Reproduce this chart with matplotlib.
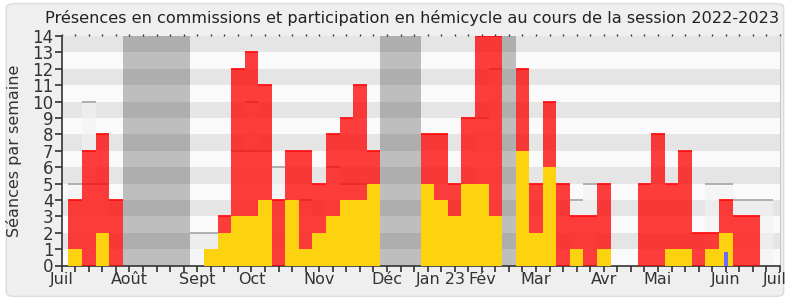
import numpy as np
import matplotlib
matplotlib.use('Agg')
import matplotlib.pyplot as plt
from matplotlib.patches import FancyBboxPatch
from matplotlib.transforms import ScaledTranslation

# weekly values, session 2022-2023 (52 weeks starting early July)
# red bars: total weekly activity (hemicycle + commission)
total = [4, 7, 8, 4, 0, 0, 0, 0, 0, 0, 0, 3, 12, 13, 11, 4, 7, 7, 5, 8, 9, 11, 7, 0, 0, 0,
         8, 8, 5, 9, 14, 14, 0, 12, 5, 10, 5, 3, 3, 5, 0, 0, 5, 8, 5, 7, 2, 2, 4, 3, 3, 0]
# yellow bars: commission presences
commission = [1, 0, 2, 0, 0, 0, 0, 0, 0, 0, 1, 2, 3, 3, 4, 0, 4, 1, 2, 3, 4, 4, 5, 0, 0, 0,
              5, 4, 3, 5, 5, 3, 0, 7, 2, 6, 0, 1, 0, 1, 0, 0, 0, 0, 1, 1, 0, 1, 2, 0, 0, 0]
# grey median lines (nan = none)
nan = np.nan
median = [5, 5, 5, nan, nan, nan, nan, nan, nan, 2, 2, nan, 7, 7, 7, 6, nan, 4, nan, 6, 5, 5,
          nan, nan, nan, nan, nan, nan, nan, nan, 9, 12, nan, nan, nan, nan, nan, 4, 5, nan,
          nan, nan, nan, nan, nan, nan, nan, 5, 5, 4, 4, 4]
median_high = [nan, 10] + [nan] * 11 + [10] + [nan] * 38
# parliamentary holidays (week indices)
vacances = [4, 5, 6, 7, 8, 23, 24, 25, 32]
# oral questions
questions_week = [48]
questions = [0.85]

month_ticks = [0, 5, 10, 14, 19, 24, 28, 31, 35, 40, 44, 49, 53]
month_labels = ['Juil', 'Août', 'Sept', 'Oct', 'Nov', 'Déc', 'Jan 23', 'Fév', 'Mar',
                'Avr', 'Mai', 'Juin', 'Juil']

n_weeks = len(total)
x = np.arange(n_weeks) + 1

fig = plt.figure(figsize=(7.9, 3.0), dpi=100, facecolor='white')
fig.patches.append(FancyBboxPatch((0.008, 0.012), 0.984, 0.976,
                                  boxstyle='round,pad=0,rounding_size=0.012',
                                  transform=fig.transFigure, facecolor='#efefef',
                                  edgecolor='#dcdcdc', linewidth=1.0, zorder=-10))

ax = fig.add_axes([0.0781, 0.115, 0.9092, 0.765])
ax.set_facecolor('#fafafa')
ax.set_xlim(0, 53)
ax.set_ylim(0, 14)

# horizontal bands
for k in range(14):
    if k % 2 == 1:
        ax.axhspan(k, k + 1, color='#e5e5e5', lw=0, zorder=0)

# holidays
for w in vacances:
    ax.bar(w + 1, 14, width=1, color='black', alpha=0.24, lw=0, zorder=1)

# median (light fill + grey line)
med = np.array(median, dtype=float)
med_hi = np.array(median_high, dtype=float)
fill_top = np.fmax(med, med_hi)
ok = ~np.isnan(fill_top)
ax.bar(x[ok], fill_top[ok], width=1, color='#f2f2f2', alpha=0.62, lw=0, zorder=2)
for arr in (med, med_hi):
    ok = ~np.isnan(arr)
    ax.hlines(arr[ok], x[ok] - 0.5, x[ok] + 0.5, color='#aaaaaa', lw=1.3, zorder=3)

# red bars
tot = np.array(total)
ok = tot > 0
ax.bar(x[ok], tot[ok], width=1, color='#ff0000', alpha=0.76, lw=0, zorder=4)
ax.hlines(tot[ok], x[ok] - 0.5, x[ok] + 0.5, color='#ff1010', lw=1.3, zorder=5)

# yellow bars
com = np.array(commission)
ok = com > 0
ax.bar(x[ok], com[ok], width=1, color='#fdd20f', lw=0, zorder=6)

# questions
ax.bar(np.array(questions_week) + 1, questions, width=0.3, color='#6b6bff', lw=0, zorder=7)

# axes styling
ax.spines['top'].set_visible(False)
ax.spines['right'].set_color('#c8c8c8')
ax.spines['left'].set_color('#333333')
ax.spines['bottom'].set_color('#333333')
ax.spines['left'].set_linewidth(1.2)
ax.spines['bottom'].set_linewidth(1.2)

ax.set_yticks(range(15))
ax.tick_params(axis='y', length=5, width=1.2, color='#333333', labelcolor='#333333',
               labelsize=12, pad=1)
ax.set_xticks(range(54))
ax.set_xticklabels([month_labels[month_ticks.index(i)] if i in month_ticks else ''
                    for i in range(54)])
ax.tick_params(axis='x', length=4, width=1.2, color='#333333', labelcolor='#333333',
               labelsize=11.5, pad=1)
# keep the last "Juil" inside the figure
last = ax.get_xticklabels()[53]
last.set_transform(last.get_transform() + ScaledTranslation(-0.05, 0, fig.dpi_scale_trans))

top = ax.secondary_xaxis('top')
top.set_xticks(range(54))
top.set_xticklabels([])
top.tick_params(length=1.2, width=1.0, color='#333333', direction='out')
top.spines['top'].set_visible(False)

ax.set_ylabel('Séances par semaine', fontsize=11.5, color='#333333', labelpad=7)
fig.text(0.5215, 0.94, 'Présences en commissions et participation en hémicycle au cours de la session 2022-2023',
         ha='center', va='center', fontsize=11.6, color='#222222')

fig.savefig('out.png', dpi=100, facecolor=fig.get_facecolor())
